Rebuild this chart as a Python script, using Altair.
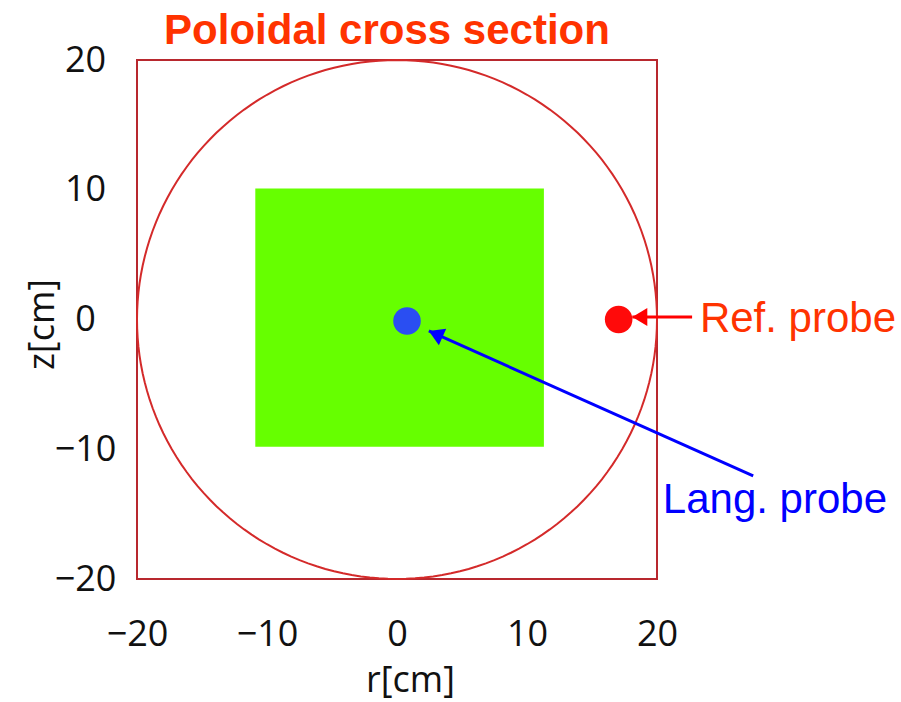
import math
import altair as alt
import pandas as pd

# Axis ticks (cm)
tick_values = [-20, -10, 0, 10, 20]

# Vessel wall: square frame and circular chamber (radius in cm)
wall_radius = 20

# Green measurement region (cm)
region_r = [-10.9, 11.3]
region_z = [-9.8, 10.1]

# Probe positions (cm)
probe_names = ["Ref. probe", "Lang. probe"]
probe_r = [17.05, 0.77]
probe_z = [0.0, -0.12]
probe_colors = ["#ff0a0a", "#2a4ef2"]

# Label positions (cm)
label_r = [23.3, 20.45]
label_z = [-0.96, -14.9]
label_colors = ["#ff3300", "#0000ff"]

# Arrows from labels to probes (cm)
arrow_tail_r = [22.7, 27.4]
arrow_tail_z = [0.2, -12.05]
arrow_head_r = [18.1, 2.45]
arrow_head_z = [0.2, -0.88]
arrow_colors = ["#ff0000", "#0000ff"]

W, H = 520, 519

xs = alt.Scale(domain=[-20, 20], nice=False, zero=False)
ys = alt.Scale(domain=[-20, 20], nice=False, zero=False)

tick_font = "Open Sans"

x_axis = alt.Axis(
    values=tick_values, title="r[cm]", domain=False, ticks=False, grid=False,
    labelFont=tick_font, labelFontSize=36, labelColor="#111111",
    labelPadding=38, labelAlign="center", labelFlush=False, labelOverlap=False,
    titleFont=tick_font, titleFontSize=36, titleFontWeight="normal",
    titleColor="#111111", titleX=273, titleY=112,
    titleBaseline="alphabetic", titleAlign="center",
)
y_axis = alt.Axis(
    values=tick_values, title="z[cm]", domain=False, ticks=False, grid=False,
    labelFont=tick_font, labelFontSize=36, labelColor="#111111",
    labelPadding=52, labelAlign="center", labelBaseline="middle",
    labelFlush=False, labelOverlap=False,
    titleFont=tick_font, titleFontSize=36, titleFontWeight="normal",
    titleColor="#111111", titleAngle=270, titleX=-84, titleY=264,
    titleBaseline="alphabetic", titleAlign="center",
)


def X(field):
    return alt.X(field, type="quantitative", scale=xs, axis=x_axis)


def Y(field):
    return alt.Y(field, type="quantitative", scale=ys, axis=y_axis)


region_df = pd.DataFrame({
    "r1": [region_r[0]], "r2": [region_r[1]],
    "z1": [region_z[0]], "z2": [region_z[1]],
})
region = alt.Chart(region_df).mark_rect(color="#66ff00").encode(
    x=X("r1"), x2="r2", y=Y("z1"), y2="z2"
)

# Circular chamber wall traced around the full angle
wall = (
    alt.Chart(alt.sequence(0, 361, 2, as_="deg"))
    .transform_calculate(
        r=f"{wall_radius} * cos(datum.deg * PI / 180)",
        z=f"{wall_radius} * sin(datum.deg * PI / 180)",
    )
    .mark_line(color="#d42a2a", strokeWidth=2)
    .encode(x=X("r"), y=Y("z"), order=alt.Order("deg:Q"))
)

probe_df = pd.DataFrame({
    "name": probe_names, "r": probe_r, "z": probe_z, "c": probe_colors
})
probes = alt.Chart(probe_df).mark_point(
    shape="circle", filled=True, opacity=1, size=760
).encode(x=X("r"), y=Y("z"), color=alt.Color("c:N", scale=None))

arrow_df = pd.DataFrame({
    "tr": arrow_tail_r, "tz": arrow_tail_z,
    "hr": arrow_head_r, "hz": arrow_head_z, "c": arrow_colors,
})
arrow_df["angle"] = [
    math.degrees(math.atan2(hz - tz, tr - hr)) % 360
    for tr, tz, hr, hz in zip(arrow_tail_r, arrow_tail_z, arrow_head_r, arrow_head_z)
]
shafts = alt.Chart(arrow_df).mark_rule(strokeWidth=3).encode(
    x=X("tr"), y=Y("tz"), x2="hr", y2="hz",
    color=alt.Color("c:N", scale=None),
)
heads = alt.Chart(arrow_df).mark_point(
    shape="M0,0L1,-0.6L1,0.6Z", filled=True, opacity=1, size=900
).encode(
    x=X("hr"), y=Y("hz"), angle=alt.Angle("angle:Q", scale=None),
    color=alt.Color("c:N", scale=None),
)

label_df = pd.DataFrame({
    "text": probe_names, "r": label_r, "z": label_z, "c": label_colors
})
labels = alt.Chart(label_df).mark_text(
    font="Liberation Sans", fontSize=42, align="left", baseline="alphabetic"
).encode(
    x=X("r"), y=Y("z"), text="text:N", color=alt.Color("c:N", scale=None)
)

chart = (
    alt.layer(region, wall, shafts, heads, probes, labels)
    .properties(
        width=W, height=H,
        title=alt.TitleParams(
            "Poloidal cross section", font="Liberation Sans", fontSize=42,
            fontWeight="bold", color="#ff3300", anchor="middle",
            baseline="alphabetic", offset=0, dx=-10, dy=44,
        ),
        autosize=alt.AutoSizeParams(type="none"),
        padding={"left": 137, "top": 60, "right": 244, "bottom": 123},
        background="white",
    )
    .configure_view(stroke="#b8282e", strokeWidth=2)
)

chart.save("out.html", embed_options={"renderer": "svg", "actions": False})
